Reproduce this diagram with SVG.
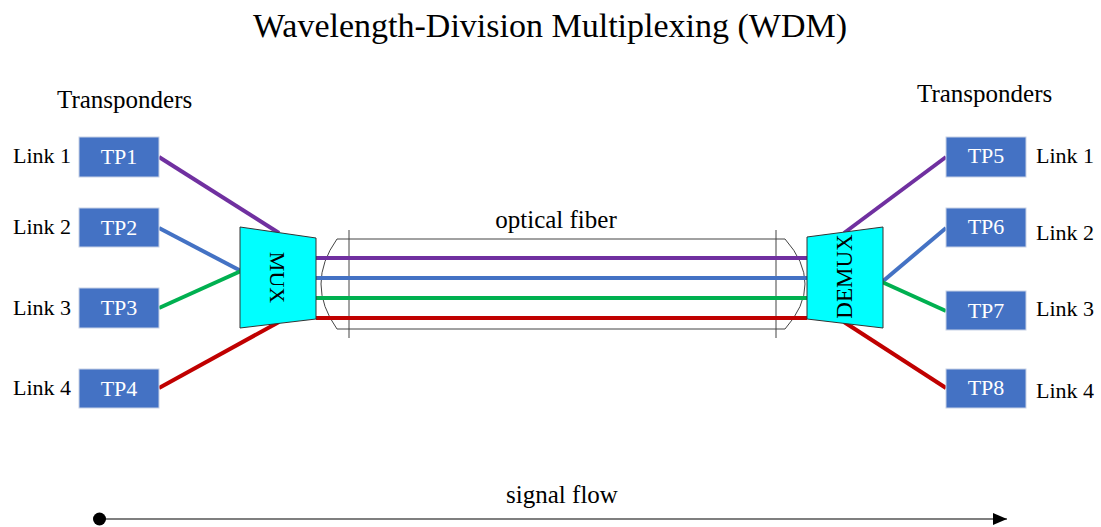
<svg xmlns="http://www.w3.org/2000/svg" width="1101" height="527" viewBox="0 0 1101 527">
<defs>
<marker id="arrow" markerWidth="14" markerHeight="12" refX="14" refY="6" orient="auto" markerUnits="userSpaceOnUse">
<path d="M0,0 L14,6 L0,12 Z" fill="#000"/>
</marker>
</defs>
<style>
text{font-family:"Liberation Serif","Times New Roman",serif;fill:#000}
.tp rect{fill:#4472C4;stroke:#c8d2e6;stroke-width:1}
.tp text{fill:#fff;font-size:22px;text-anchor:middle}
.lnk{font-size:22px}
.lbl{font-size:25px}
.mx{fill:#00FFFF;stroke:#333;stroke-width:1}
.w{stroke-width:4;fill:none;stroke-linecap:butt}
.p{stroke:#7030A0}.b{stroke:#4472C4}.g{stroke:#00B050}.r{stroke:#C00000}
</style>
<rect width="1101" height="527" fill="#fff"/>
<text x="550" y="37" font-size="34" text-anchor="middle">Wavelength-Division Multiplexing (WDM)</text>
<text class="lbl" x="57" y="108">Transponders</text>
<text class="lbl" x="917" y="102">Transponders</text>
<text class="lbl" x="556" y="228" text-anchor="middle">optical fiber</text>
<text class="lbl" x="562" y="503" text-anchor="middle">signal flow</text>

<g id="fiber">
<path d="M337,239 L785,239 Q825,284 785,329 L337,329 Q305,284 337,239 Z" fill="none" stroke="#444" stroke-width="1"/>
<line x1="349" y1="230" x2="349" y2="338" stroke="#444" stroke-width="1"/>
<line x1="776" y1="230" x2="776" y2="338" stroke="#444" stroke-width="1"/>
</g>

<g id="connectors">
<line class="w p" x1="159" y1="157" x2="279" y2="233"/>
<line class="w b" x1="159" y1="228" x2="241" y2="271"/>
<line class="w g" x1="159" y1="308" x2="241" y2="271"/>
<line class="w r" x1="159" y1="388" x2="279" y2="322"/>
<line class="w p" x1="316" y1="258" x2="807" y2="258"/>
<line class="w b" x1="316" y1="278" x2="807" y2="278"/>
<line class="w g" x1="316" y1="298" x2="807" y2="298"/>
<line class="w r" x1="316" y1="318" x2="807" y2="318"/>
<line class="w p" x1="844" y1="233" x2="946" y2="157"/>
<line class="w b" x1="882" y1="282" x2="946" y2="228"/>
<line class="w g" x1="882" y1="282" x2="946" y2="311"/>
<line class="w r" x1="844" y1="322" x2="946" y2="388"/>
<line x1="99" y1="519" x2="1007" y2="519" stroke="#555" stroke-width="1.5" marker-end="url(#arrow)"/>
<circle cx="99.5" cy="519" r="6.5" fill="#000"/>
</g>

<g id="mux">
<polygon class="mx" points="240,227 316,238 316,319 240,328"/>
<text transform="translate(270,277.5) rotate(90)" font-size="22" text-anchor="middle">MUX</text>
</g>
<g id="demux">
<polygon class="mx" points="807,237 883,227 883,328 807,319"/>
<text transform="translate(852,276.5) rotate(-90)" font-size="23" text-anchor="middle">DEMUX</text>
</g>

<g id="tp1" class="tp"><rect x="79" y="137" width="80" height="40"/><text x="119" y="164">TP1</text></g>
<g id="tp2" class="tp"><rect x="79" y="208" width="80" height="39"/><text x="119" y="235">TP2</text></g>
<g id="tp3" class="tp"><rect x="79" y="288" width="80" height="40"/><text x="119" y="315">TP3</text></g>
<g id="tp4" class="tp"><rect x="79" y="369" width="80" height="39"/><text x="119" y="396">TP4</text></g>
<g id="tp5" class="tp"><rect x="946" y="137" width="80" height="40"/><text x="986" y="163">TP5</text></g>
<g id="tp6" class="tp"><rect x="946" y="208" width="80" height="39"/><text x="986" y="234">TP6</text></g>
<g id="tp7" class="tp"><rect x="946" y="291" width="80" height="39"/><text x="986" y="318">TP7</text></g>
<g id="tp8" class="tp"><rect x="946" y="369" width="80" height="39"/><text x="986" y="395">TP8</text></g>

<g id="links">
<text class="lnk" x="13" y="163">Link 1</text>
<text class="lnk" x="13" y="234">Link 2</text>
<text class="lnk" x="13" y="315">Link 3</text>
<text class="lnk" x="13" y="395">Link 4</text>
<text class="lnk" x="1036" y="163">Link 1</text>
<text class="lnk" x="1036" y="240">Link 2</text>
<text class="lnk" x="1036" y="316">Link 3</text>
<text class="lnk" x="1036" y="398">Link 4</text>
</g>
</svg>
